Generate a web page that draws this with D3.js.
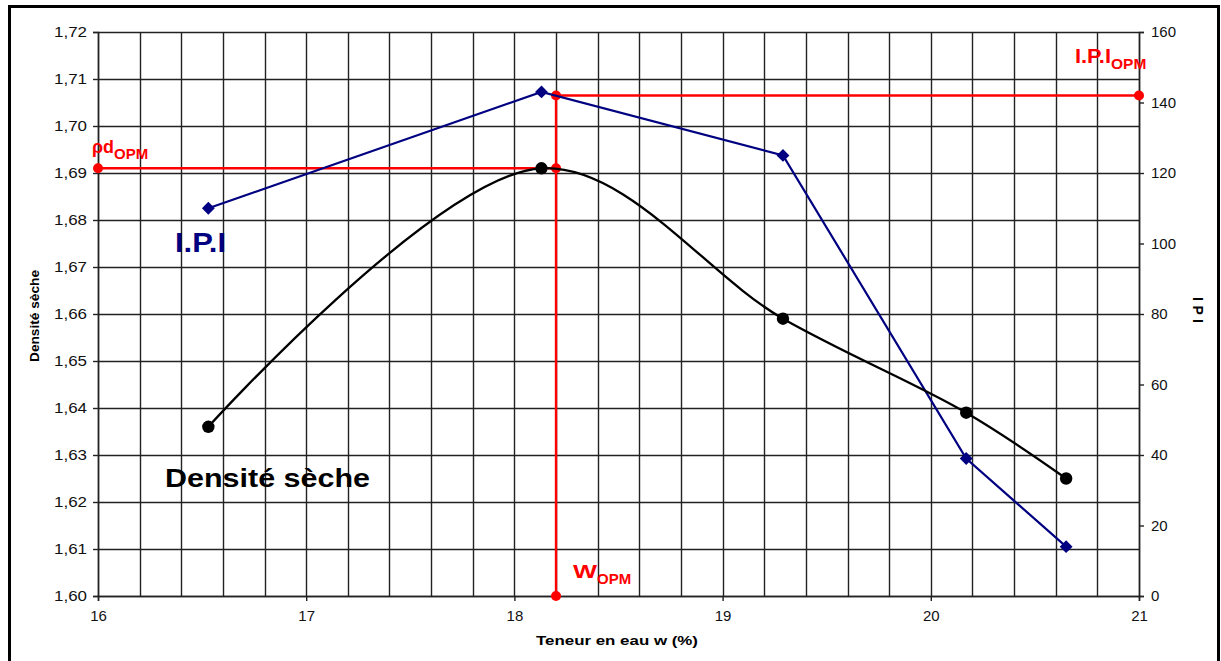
<!DOCTYPE html>
<html>
<head>
<meta charset="utf-8">
<script src="https://cdn.jsdelivr.net/npm/d3@7"></script>
<style>
  html, body { margin: 0; padding: 0; background: #fff; }
  svg { display: block; font-family: "Liberation Sans", Arial, sans-serif; }
</style>
</head>
<body>
<svg id="chart" width="1221" height="661"></svg>
<script>
// ---- Data ----
const waterContent = [16.53, 18.13, 19.29, 20.17, 20.65];
const dryDensity   = [1.636, 1.691, 1.659, 1.639, 1.625];
const ipiValues    = [110, 143, 125, 39, 14];

const xTicks      = [16, 17, 18, 19, 20, 21];
const xTickLabels = ["16", "17", "18", "19", "20", "21"];
const yLeftTicks  = [1.60, 1.61, 1.62, 1.63, 1.64, 1.65, 1.66, 1.67, 1.68, 1.69, 1.70, 1.71, 1.72];
const yRightTicks = [0, 20, 40, 60, 80, 100, 120, 140, 160];

const wOPM   = 18.2;
const rhoOPM = 1.691;
const ipiOPM = 142;

// ---- Layout ----
const svg = d3.select("#chart");
const L = 98, R = 1139, T = 32, B = 596;

const x  = d3.scaleLinear().domain([16, 21]).range([L, R]);
const yL = d3.scaleLinear().domain([1.60, 1.72]).range([B, T]);
const yR = d3.scaleLinear().domain([0, 160]).range([B, T]);

// outer frame
svg.append("rect").attr("x", 9.5).attr("y", 6.5).attr("width", 1209).attr("height", 670)
  .attr("fill", "#fff").attr("stroke", "#000").attr("stroke-width", 3);

// plot background
svg.append("rect").attr("x", L).attr("y", T).attr("width", R - L).attr("height", B - T).attr("fill", "#fff");

// grid: vertical every 0.2
const vGrid = d3.range(16, 21.0001, 0.2);
svg.append("g").selectAll("line").data(vGrid).join("line")
  .attr("x1", d => Math.round(x(d)) + 0.5).attr("x2", d => Math.round(x(d)) + 0.5)
  .attr("y1", T).attr("y2", B)
  .attr("stroke", "#222").attr("stroke-width", 1.4);
// horizontal every 0.01
svg.append("g").selectAll("line").data(yLeftTicks).join("line")
  .attr("x1", L).attr("x2", R)
  .attr("y1", d => Math.round(yL(d)) + 0.5).attr("y2", d => Math.round(yL(d)) + 0.5)
  .attr("stroke", "#222").attr("stroke-width", 1.4);

// axes
const fmtComma = d => d3.format(".2f")(d).replace(".", ",");
const axL = svg.append("g").attr("transform", `translate(${L},0)`)
  .call(d3.axisLeft(yL).tickValues(yLeftTicks).tickFormat(fmtComma).tickSize(5).tickPadding(6));
const axR = svg.append("g").attr("transform", `translate(${R},0)`)
  .call(d3.axisRight(yR).tickValues(yRightTicks).tickSize(5).tickPadding(6));
const axB = svg.append("g").attr("transform", `translate(0,${B})`)
  .call(d3.axisBottom(x).tickValues(xTicks).tickFormat((d, i) => xTickLabels[i]).tickSize(5).tickPadding(9));
[axL, axR, axB].forEach(g => {
  g.select(".domain").attr("stroke", "#222").attr("stroke-width", 1.5);
  g.selectAll(".tick line").attr("stroke", "#222").attr("stroke-width", 1.4);
  g.selectAll("text").attr("font-size", 15).attr("fill", "#111")
    .attr("font-family", "'Liberation Sans', Arial, sans-serif");
});
axL.selectAll(".tick text").attr("textLength", 33).attr("lengthAdjust", "spacingAndGlyphs");
axR.selectAll(".tick text").attr("dx", 1);

// axis titles
svg.append("text").attr("transform", `translate(39,${(T + B) / 2 + 2}) rotate(-90)`)
  .attr("text-anchor", "middle").attr("font-size", 12).attr("font-weight", "bold")
  .attr("textLength", 92).attr("lengthAdjust", "spacingAndGlyphs").text("Densité sèche");
svg.append("text").attr("transform", `translate(1193,310) rotate(90)`)
  .attr("text-anchor", "middle").attr("font-size", 14).attr("font-weight", "bold")
  .attr("textLength", 26).attr("lengthAdjust", "spacing").text("I P I");
svg.append("text").attr("x", 617).attr("y", 645)
  .attr("text-anchor", "middle").attr("font-size", 13.5).attr("font-weight", "bold")
  .attr("textLength", 162).attr("lengthAdjust", "spacingAndGlyphs").text("Teneur en eau w (%)");

// red OPM lines
const red = "#ff0000";
const gRed = svg.append("g");
gRed.append("line").attr("x1", x(16)).attr("x2", x(wOPM)).attr("y1", yL(rhoOPM)).attr("y2", yL(rhoOPM))
  .attr("stroke", red).attr("stroke-width", 2.4);
gRed.append("line").attr("x1", x(wOPM)).attr("x2", x(21)).attr("y1", yR(ipiOPM)).attr("y2", yR(ipiOPM))
  .attr("stroke", red).attr("stroke-width", 2.4);
gRed.append("line").attr("x1", x(wOPM)).attr("x2", x(wOPM)).attr("y1", yR(ipiOPM)).attr("y2", B)
  .attr("stroke", red).attr("stroke-width", 2.4);

// IPI series (blue, straight)
const navy = "#000080";
const ipiData = waterContent.map((w, i) => [w, ipiValues[i]]);
svg.append("path").datum(ipiData)
  .attr("d", d3.line().x(d => x(d[0])).y(d => yR(d[1])))
  .attr("fill", "none").attr("stroke", navy).attr("stroke-width", 2.2);
svg.append("g").selectAll("path").data(ipiData).join("path")
  .attr("d", d3.symbol(d3.symbolDiamond2, 105))
  .attr("transform", d => `translate(${x(d[0])},${yR(d[1])})`)
  .attr("fill", navy);

// Density series (black, smoothed)
const densData = waterContent.map((w, i) => [w, dryDensity[i]]);
svg.append("path").datum(densData)
  .attr("d", d3.line().x(d => x(d[0])).y(d => yL(d[1])).curve(d3.curveCatmullRom.alpha(0.5)))
  .attr("fill", "none").attr("stroke", "#000").attr("stroke-width", 2.3);
svg.append("g").selectAll("circle").data(densData).join("circle")
  .attr("cx", d => x(d[0])).attr("cy", d => yL(d[1])).attr("r", 6.2).attr("fill", "#000");

// red dots
const redDots = [
  [x(16), yL(rhoOPM)], [x(wOPM), yL(rhoOPM)], [x(wOPM), yR(ipiOPM)], [x(21), yR(ipiOPM)], [x(wOPM), B]
];
gRed.selectAll("circle").data(redDots).join("circle")
  .attr("cx", d => d[0]).attr("cy", d => d[1]).attr("r", 5).attr("fill", red);

// annotations
function subLabel(px, py, main, sub, size, subSize, mainLen) {
  const t = svg.append("text").attr("x", px).attr("y", py).attr("fill", red)
    .attr("font-weight", "bold").attr("font-size", size);
  const m = t.append("tspan").text(main);
  if (mainLen) m.attr("textLength", mainLen).attr("lengthAdjust", "spacingAndGlyphs");
  t.append("tspan").attr("dy", 6).attr("font-size", subSize).text(sub);
}
subLabel(92, 153, "ρd", "OPM", 19, 15, 22);
subLabel(1075, 63, "I.P.I", "OPM", 20, 15.5, 36);
subLabel(573, 578, "W", "OPM", 19, 15, 24);

svg.append("text").attr("x", 175).attr("y", 252).attr("fill", navy)
  .attr("font-weight", "bold").attr("font-size", 28).attr("textLength", 51)
  .attr("lengthAdjust", "spacingAndGlyphs").text("I.P.I");
svg.append("text").attr("x", 165).attr("y", 487).attr("fill", "#000")
  .attr("font-weight", "bold").attr("font-size", 26).attr("textLength", 205)
  .attr("lengthAdjust", "spacingAndGlyphs").text("Densité sèche");
</script>
</body>
</html>
